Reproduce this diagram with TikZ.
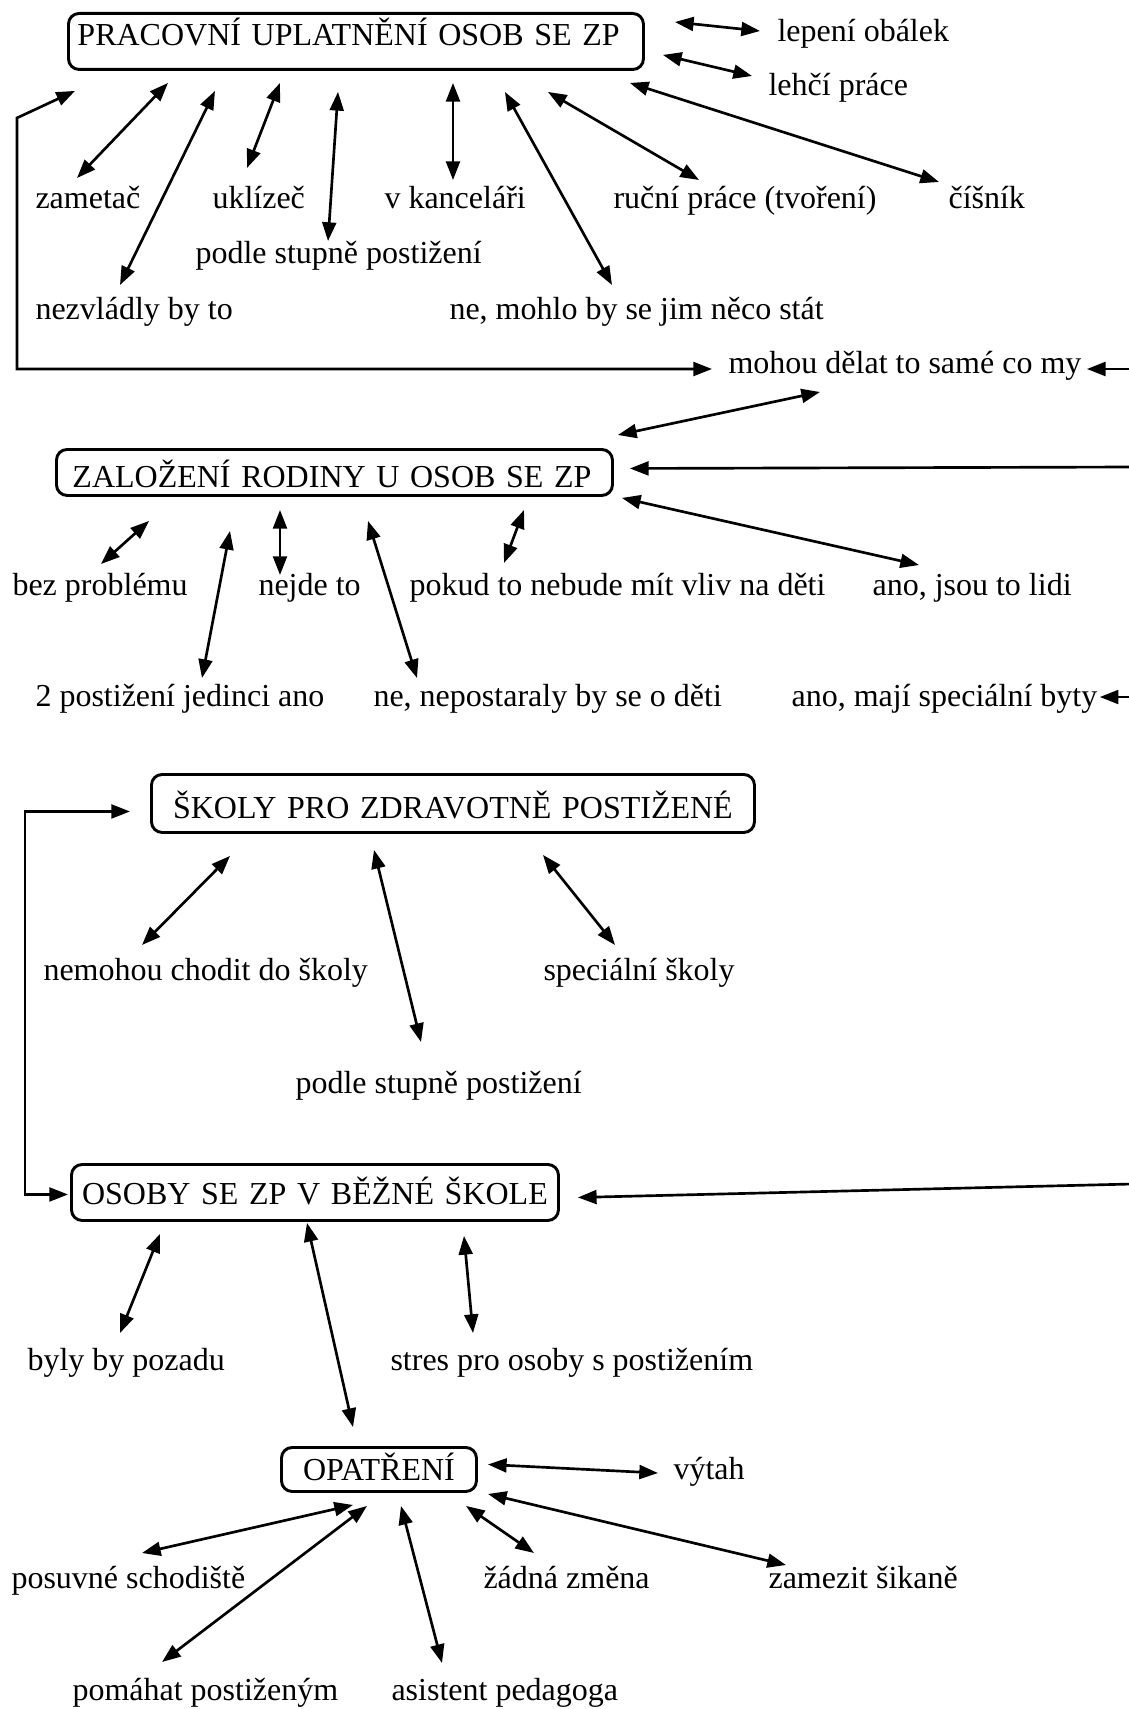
\documentclass[tikz,border=0pt]{standalone}
\usepackage{fontspec}
\setmainfont{Liberation Serif}
\usetikzlibrary{arrows.meta}
\newdimen\px \px=0.375pt
\tikzset{
  box/.style={draw,line width=1.1pt,rounded corners=4pt,anchor=north west,inner ysep=0pt,font=\fontsize{12}{14}\selectfont},
  note/.style={anchor=base west,inner sep=0pt,font=\fontsize{12}{14}\selectfont},
  arr/.style={{Triangle[length=7pt,width=5.2pt]}-{Triangle[length=7pt,width=5.2pt]},line width=1pt},
  onearr/.style={-{Triangle[length=7pt,width=5.2pt]},line width=1pt}
}
\begin{document}
\begin{tikzpicture}[x=0.375pt,y=-0.375pt]
  \useasboundingbox (0,0) rectangle (1128,1709);
  % pracovni uplatneni
  \node[box,text width=557\px,inner xsep=9\px,text height=32\px,text depth=24\px,align=left] (prace) at (67,12) {PRACOVNÍ UPLATNĚNÍ OSOB SE ZP};
  \node[note] (lepeni) at (777,42) {lepení obálek};
  \node[note] (lehci) at (768,96) {lehčí práce};
  \node[note] (zametac) at (35,208) {zametač};
  \node[note] (uklizec) at (212,208) {uklízeč};
  \node[note] (kancelar) at (384,208) {v kanceláři};
  \node[note] (rucni) at (613,208) {ruční práce (tvoření)};
  \node[note] (cisnik) at (948,208) {číšník};
  \node[note] (podleA) at (195,264) {podle stupně postižení};
  \node[note] (nezvladly) at (35,319) {nezvládly by to};
  \node[note] (nemohlo) at (449,319) {ne, mohlo by se jim něco stát};
  \node[note] (mohou) at (728,373) {mohou dělat to samé co my};
  \draw[arr] ([shift={(30,10)}]prace.north east) -- ([shift={(-17,-11)}]lepeni.base west);
  \draw[arr] ([shift={(18,-16)}]prace.south east) -- ([shift={(-16,-20)}]lehci.base west);
  \draw[arr] ([shift={(-15,12)}]prace.south east) -- ([shift={(-9,-26)}]cisnik.base west);
  \draw[arr] ([shift={(-97,21)}]prace.south east) -- ([shift={(86,-28)}]rucni.base west);
  \draw[arr] ([shift={(-140,21)}]prace.south east) -- ([shift={(163,-34)}]nemohlo.base west);
  \draw[arr] ([shift={(386,12)}]prace.south west) -- ([shift={(69,-28)}]kancelar.base west);
  \draw[arr] ([shift={(271,21)}]prace.south west) -- ([shift={(133,-23)}]podleA.base west);
  \draw[arr] ([shift={(213,12)}]prace.south west) -- ([shift={(35,-40)}]uklizec.base west);
  \draw[arr] ([shift={(148,20)}]prace.south west) -- ([shift={(85,-34)}]nezvladly.base west);
  \draw[arr] ([shift={(101,12)}]prace.south west) -- ([shift={(42,-30)}]zametac.base west);
  \draw[arr] ([shift={(8,20)}]prace.south west) -- ++(-58,27) |- ([shift={(-16,-4)}]mohou.base west);
  \coordinate (rimA) at (1132,369);
  \draw[onearr] (rimA) -- ([shift={(5,-4)}]mohou.base east);
  % zalozeni rodiny
  \node[box,text width=524\px,inner xsep=16\px,text height=38\px,text depth=8\px,align=left] (rodina) at (55,448) {ZALOŽENÍ RODINY U OSOB SE ZP};
  \node[note] (bez) at (12,595) {bez problému};
  \node[note] (nejde) at (258,595) {nejde to};
  \node[note] (pokud) at (409,595) {pokud to nebude mít vliv na děti};
  \node[note] (lidi) at (872,595) {ano, jsou to lidi};
  \node[note] (dva) at (35,706) {2 postižení jedinci ano};
  \node[note] (nepost) at (373,706) {ne, nepostaraly by se o děti};
  \node[note] (byty) at (791,706) {ano, mají speciální byty};
  \draw[arr] ([shift={(92,19)}]mohou.base west) -- ([shift={(4,-13)}]rodina.north east);
  \coordinate (rimB) at (1132,467);
  \draw[onearr] (rimB) -- ([shift={(16,-4)}]rodina.east);
  \draw[arr] ([shift={(8,1)}]rodina.south east) -- ([shift={(47,-30)}]lidi.base west);
  \draw[arr] ([shift={(469,13)}]rodina.south west) -- ([shift={(95,-32)}]pokud.base west);
  \draw[arr] ([shift={(225,13)}]rodina.south west) -- ([shift={(22,-20)}]nejde.base west);
  \draw[arr] ([shift={(313,24)}]rodina.south west) -- ([shift={(44,-28)}]nepost.base west);
  \draw[arr] ([shift={(175,34)}]rodina.south west) -- ([shift={(167,-28)}]dva.base west);
  \draw[arr] ([shift={(94,24)}]rodina.south west) -- ([shift={(89,-31)}]bez.base west);
  \coordinate (rimC) at (1132,697);
  \draw[onearr] (rimC) -- ([shift={(2,-9)}]byty.base east);
  % skoly
  \node[box,text width=583\px,inner xsep=10\px,text height=44\px,text depth=14\px,align=center] (skoly) at (150,773) {ŠKOLY PRO ZDRAVOTNĚ POSTIŽENÉ};
  \node[note] (nemohou) at (43,980) {nemohou chodit do školy};
  \node[note] (specialni) at (543,980) {speciální školy};
  \node[note] (podleB) at (295,1093) {podle stupně postižení};
  \node[box,text width=467\px,inner xsep=10\px,text height=40\px,text depth=16\px,align=center] (bezne) at (70,1163) {OSOBY SE ZP V BĚŽNÉ ŠKOLE};
  \draw[arr] ([shift={(-20,8)}]skoly.west) -- ++(-105,0) |- ([shift={(-2,2)}]bezne.west);
  \draw[arr] ([shift={(80,22)}]skoly.south west) -- ([shift={(99,-35)}]nemohou.base west);
  \draw[arr] ([shift={(224,16)}]skoly.south west) -- ([shift={(126,-51)}]podleB.base west);
  \draw[arr] ([shift={(393,21)}]skoly.south west) -- ([shift={(72,-35)}]specialni.base west);
  \coordinate (rimD) at (1132,1184);
  \draw[onearr] (rimD) -- ([shift={(18,5)}]bezne.east);
  % opatreni
  \node[note] (pozadu) at (27,1370) {byly by pozadu};
  \node[note] (stres) at (390,1370) {stres pro osoby s postižením};
  \node[box,text width=175\px,inner xsep=10\px,text height=33\px,text depth=11\px,align=center] (opatreni) at (280,1446) {OPATŘENÍ};
  \node[note] (vytah) at (673,1479) {výtah};
  \node[note] (posuvne) at (11,1588) {posuvné schodiště};
  \node[note] (zadna) at (483,1588) {žádná změna};
  \node[note] (zamezit) at (768,1588) {zamezit šikaně};
  \node[note] (pomahat) at (72,1700) {pomáhat postiženým};
  \node[note] (asistent) at (391,1700) {asistent pedagoga};
  \draw[arr] ([shift={(90,12)}]bezne.south west) -- ([shift={(93,-37)}]pozadu.base west);
  \draw[arr] ([shift={(394,14)}]bezne.south west) -- ([shift={(83,-37)}]stres.base west);
  \draw[arr] ([shift={(237,1)}]bezne.south west) -- ([shift={(73,-19)}]opatreni.north west);
  \draw[arr] ([shift={(10,-5)}]opatreni.east) -- ([shift={(-15,-6)}]vytah.base west);
  \draw[arr] ([shift={(10,1)}]opatreni.south east) -- ([shift={(18,-23)}]zamezit.base west);
  \draw[arr] ([shift={(186,13)}]opatreni.south west) -- ([shift={(51,-35)}]zadna.base west);
  \draw[arr] ([shift={(121,13)}]opatreni.south west) -- ([shift={(51,-37)}]asistent.base west);
  \draw[arr] ([shift={(87,13)}]opatreni.south west) -- ([shift={(90,-38)}]pomahat.base west);
  \draw[arr] ([shift={(73,12)}]opatreni.south west) -- ([shift={(131,-35)}]posuvne.base west);
\end{tikzpicture}
\end{document}
